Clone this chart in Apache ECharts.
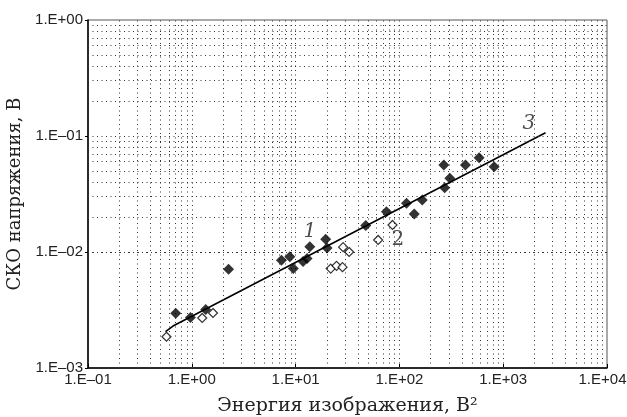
<!DOCTYPE html>
<html><head><meta charset="utf-8">
<script src="https://cdn.jsdelivr.net/npm/echarts@6/dist/echarts.min.js"></script>
<style>html,body{margin:0;padding:0;background:#fff}#c{width:627px;height:417px}</style>
</head><body><div id="c"></div>
<script>
// Series 1: filled diamonds [energy, rms]
const series1 = [
  [0.70,0.00296],[0.97,0.00272],[1.36,0.0032],[2.26,0.0071],
  [7.3,0.0085],[8.8,0.0091],[9.5,0.0072],[11.8,0.0083],[12.9,0.0088],[13.7,0.0111],
  [19.5,0.0129],[20.1,0.0108],[47.4,0.0169],[75,0.0222],[117,0.0263],[139,0.0213],
  [166,0.0281],[268,0.0562],[273,0.0358],[306,0.0432],[433,0.0562],[586,0.065],[818,0.0544]
];
// Series 2: hollow diamonds
const series2 = [
  [0.57,0.00186],[1.26,0.0027],[1.60,0.00298],
  [21.8,0.0072],[24.8,0.0076],[28.3,0.0074],[28.7,0.0110],[32.8,0.0100],
  [62.4,0.0127],[85.8,0.0171]
];
// Curve 3: fitted line
const curve3 = [[0.558,0.00206],[0.659,0.0023],[2558,0.1067]];
// Curve annotations [x, y, text, italic]
const annotations = [[13.7,0.0149,'1',true],[96.6,0.0127,'2',false],[1766,0.127,'3',true]];
// Axis tick labels by decade exponent
const xTickLabels = {'-1':'1.E–01','0':'1.E+00','1':'1.E+01','2':'1.E+02','3':'1.E+03','4':'1.E+04'};
const yTickLabels = {'-3':'1.E–03','-2':'1.E–02','-1':'1.E–01','0':'1.E+00'};
const xTitle = 'Энергия изображения, В²';
const yTitle = 'СКО напряжения, В';

// Dotted grid positions (1..9 × 10^k)
const gridX = [], gridY = [];
for (let k=-1;k<4;k++) for (let m=1;m<10;m++) if (!(k===-1&&m===1)) gridX.push(m*Math.pow(10,k));
for (let k=-3;k<0;k++) for (let m=1;m<10;m++) if (!(k===-3&&m===1)) gridY.push(m*Math.pow(10,k));

const dot = {color:'#333', width:1, type:[1,3.5]};
const chart = echarts.init(document.getElementById('c'), null, {renderer:'canvas'});
const lab = (map) => (v) => map[String(Math.round(Math.log10(v)))] || '';
const xLab = (v) => {
  const e = Math.round(Math.log10(v));
  const t = xTickLabels[String(e)] || '';
  return e === 4 ? '{last|' + t + '}' : t;
};
chart.setOption({
  animation:false,
  grid:{left:88, top:20, right:20, bottom:49, containLabel:false, outerBoundsMode:'none',
    show:true, borderColor:'#555', borderWidth:1},
  xAxis:{type:'log', logBase:10, min:0.1, max:10000,
    axisLine:{show:true, onZero:false, lineStyle:{color:'#000', width:1.5}},
    axisTick:{show:true, inside:true, length:4, lineStyle:{color:'#000'}},
    splitLine:{show:false},
    axisLabel:{formatter:xLab, fontFamily:'Liberation Sans', fontSize:15, color:'#222', margin:4,
      rich:{last:{fontFamily:'Liberation Sans', fontSize:15, color:'#222', padding:[0,9,0,0]}}},
    name:xTitle, nameLocation:'middle', nameGap:29,
    nameTextStyle:{fontFamily:'DejaVu Serif', fontSize:19, color:'#222'}
  },
  yAxis:{type:'log', logBase:10, min:0.001, max:1,
    axisLine:{show:true, onZero:false, lineStyle:{color:'#000', width:1.5}},
    axisTick:{show:true, inside:false, length:3, lineStyle:{color:'#000'}},
    splitLine:{show:false},
    axisLabel:{formatter:lab(yTickLabels), fontFamily:'Liberation Sans', fontSize:15, color:'#222', margin:5},
    name:yTitle, nameLocation:'middle', nameGap:64, nameRotate:90,
    nameTextStyle:{fontFamily:'DejaVu Serif', fontSize:18, color:'#222'}
  },
  series:[
    {type:'line', data:[], silent:true,
      markLine:{silent:true, symbol:'none', label:{show:false}, lineStyle:dot,
        data: gridX.map(v=>({xAxis:v})).concat(gridY.map(v=>({yAxis:v})))}},
    {type:'line', data:curve3, showSymbol:false, symbol:'none', lineStyle:{color:'#000', width:1.6}, z:3},
    {type:'scatter', data:series2, symbol:'diamond', symbolSize:9,
      itemStyle:{color:'#fff', borderColor:'#000', borderWidth:1.2}, z:4},
    {type:'scatter', data:series1, symbol:'diamond', symbolSize:11,
      itemStyle:{color:'#000'}, z:5},
    {type:'scatter', symbolSize:0, z:6,
      data:annotations.map(a=>({value:[a[0],a[1]],
        label:{show:true, position:'inside', formatter:a[2],
          fontFamily:'DejaVu Serif', fontStyle:a[3]?'italic':'normal', fontSize:20, color:'#222'}}))}
  ]
});
</script></body></html>
